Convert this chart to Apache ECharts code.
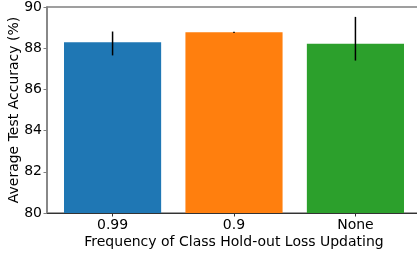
<!DOCTYPE html>
<html><head><meta charset="utf-8">
<script src="https://cdn.jsdelivr.net/npm/echarts@6/dist/echarts.min.js"></script>
<style>html,body{margin:0;padding:0;background:#fff}#c{width:417px;height:253px}</style>
</head><body><div id="c"></div>
<script>
const categories = ['0.99', '0.9', 'None'];
const means = [88.29, 88.77, 88.21];
const errLow = [87.65, 88.74, 87.40];
const errHigh = [88.81, 88.80, 89.52];
const colors = ['#1f77b4', '#ff7f0e', '#2ca02c'];
const yTicks = [80, 82, 84, 86, 88, 90];

const F = 'DejaVu Sans';
const chart = echarts.init(document.getElementById('c'), null, {renderer: 'canvas'});
const barData = categories.map((c, i) => [i, means[i], errLow[i], errHigh[i]]);
chart.setOption({
  animation: false,
  grid: {left: 47, top: 7, right: -4, bottom: 40, show: true, borderColor: '#808080', borderWidth: 1.5,
    outerBoundsMode: 'none', containLabel: false},
  xAxis: {
    type: 'value', min: -0.54, max: 2.54,
    name: 'Frequency of Class Hold-out Loss Updating', nameLocation: 'middle', nameGap: 22,
    nameMoveOverlap: false,
    nameTextStyle: {fontFamily: F, fontSize: 14, color: '#000'},
    axisLine: {show: true, onZero: false, lineStyle: {color: '#333', width: 1}},
    axisTick: {show: true, length: 3.5, lineStyle: {color: '#333'}, customValues: [0, 1, 2]},
    axisLabel: {fontFamily: F, fontSize: 14, color: '#000', margin: 5, customValues: [0, 1, 2],
      formatter: v => categories[Math.round(v)] || ''},
    splitLine: {show: false}
  },
  yAxis: {
    type: 'value', min: yTicks[0], max: yTicks[yTicks.length - 1], interval: 2,
    name: 'Average Test Accuracy (%)', nameLocation: 'middle', nameGap: 26,
    nameMoveOverlap: false,
    nameTextStyle: {fontFamily: F, fontSize: 14, color: '#000'},
    axisLine: {show: true, onZero: false, lineStyle: {color: '#808080', width: 1.5}},
    axisTick: {show: true, length: 3.5, lineStyle: {color: '#808080'}},
    axisLabel: {fontFamily: F, fontSize: 14, color: '#000', margin: 5},
    splitLine: {show: false}
  },
  series: [{
    type: 'custom',
    data: barData,
    encode: {x: 0, y: 1},
    renderItem: function (params, api) {
      const i = api.value(0), m = api.value(1), lo = api.value(2), hi = api.value(3);
      const p0 = api.coord([i - 0.4, m]);
      const p1 = api.coord([i + 0.4, 80]);
      const eTop = api.coord([i, hi]);
      const eBot = api.coord([i, lo]);
      return {type: 'group', children: [
        {type: 'rect', shape: {x: p0[0], y: p0[1], width: p1[0] - p0[0], height: p1[1] - p0[1]},
          style: {fill: colors[i]}},
        {type: 'line', shape: {x1: eTop[0], y1: eTop[1], x2: eBot[0], y2: eBot[1]},
          style: {stroke: '#000', lineWidth: 1.5}}
      ]};
    }
  }]
});
</script></body></html>
